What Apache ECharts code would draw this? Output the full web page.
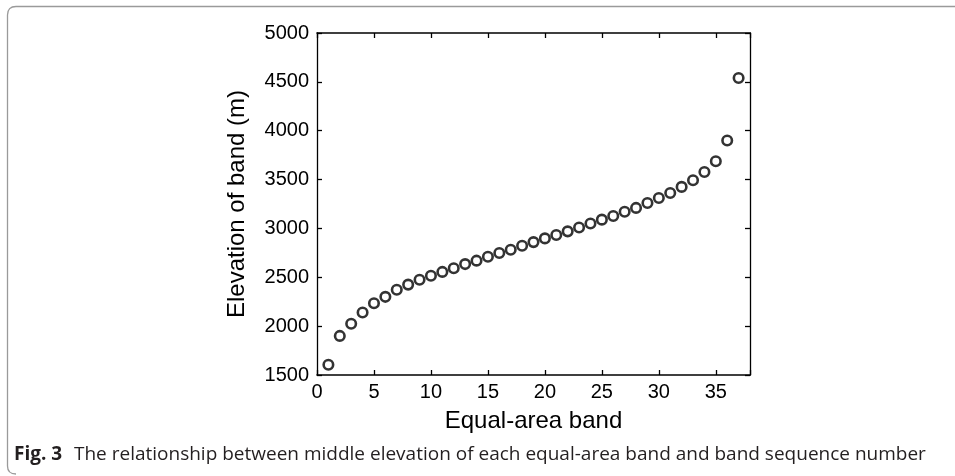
<!DOCTYPE html>
<html>
<head>
<meta charset="utf-8">
<script src="https://cdn.jsdelivr.net/npm/echarts@6/dist/echarts.min.js"></script>
<style>
html,body{margin:0;padding:0;background:#fff;}
#chart{width:955px;height:476px;}
</style>
</head>
<body>
<div id="chart"></div>
<script>
const bands = [1,2,3,4,5,6,7,8,9,10,11,12,13,14,15,16,17,18,19,20,21,22,23,24,25,26,27,28,29,30,31,32,33,34,35,36,37];
const elevations = [1605,1900,2025,2140,2235,2300,2372,2425,2475,2515,2555,2592,2635,2670,2710,2748,2782,2822,2860,2898,2932,2970,3010,3050,3090,3127,3170,3210,3260,3312,3363,3425,3493,3578,3688,3900,4540];
const xTicks = [0,5,10,15,20,25,30,35];
const yTicks = [1500,2000,2500,3000,3500,4000,4500,5000];
const xTitle = 'Equal-area band';
const yTitle = 'Elevation of band (m)';
const captionBold = 'Fig. 3';
const captionText = 'The relationship between middle elevation of each equal-area band and band sequence number';

const chart = echarts.init(document.getElementById('chart'), null, {renderer:'canvas'});
const fontFam = 'Liberation Sans, Arial, sans-serif';
const lineCol = '#000';
const points = bands.map((b,i)=>[b, elevations[i]]);

const xBase = {
  type:'value', min:0, max:38, interval:5,
  axisLine:{show:true, onZero:false, lineStyle:{color:lineCol, width:1.6}},
  axisTick:{show:true, inside:true, length:5, lineStyle:{color:lineCol, width:1.3}},
  splitLine:{show:false}
};
const yBase = {
  type:'value', min:1500, max:5000, interval:500,
  axisLine:{show:true, onZero:false, lineStyle:{color:lineCol, width:1.3}},
  axisTick:{show:true, inside:true, length:5, lineStyle:{color:lineCol, width:1.3}},
  splitLine:{show:false}
};

const frameStyle = {stroke:'#9a9a9a', lineWidth:1.3, fill:null};

chart.setOption({
  animation:false,
  backgroundColor:'#fff',
  grid:{left:317, right:205, top:33, bottom:101, containLabel:false},
  xAxis:[
    Object.assign({}, xBase, {
      position:'bottom',
      name:xTitle, nameLocation:'middle', nameGap:34,
      nameTextStyle:{fontFamily:fontFam, fontSize:24, color:'#000'},
      axisLabel:{show:true, margin:7, fontFamily:fontFam, fontSize:20, color:'#000',
        formatter:v=> xTicks.indexOf(v)>=0 ? String(v) : ''}
    }),
    Object.assign({}, xBase, {position:'top', axisLabel:{show:false}})
  ],
  yAxis:[
    Object.assign({}, yBase, {
      position:'left',
      name:yTitle, nameLocation:'middle', nameGap:68, nameRotate:90,
      nameTextStyle:{fontFamily:fontFam, fontSize:24, color:'#000'},
      axisLabel:{show:true, margin:8, fontFamily:fontFam, fontSize:20, color:'#000',
        formatter:v=> yTicks.indexOf(v)>=0 ? String(v) : ''}
    }),
    Object.assign({}, yBase, {position:'right', axisLabel:{show:false}})
  ],
  series:[{
    type:'scatter',
    xAxisIndex:0, yAxisIndex:0,
    data:points,
    symbol:'circle',
    symbolSize:9.5,
    itemStyle:{color:'#fff', borderColor:'#000', borderWidth:2.6}
  }],
  graphic:[
    {type:'line', silent:true, shape:{x1:16, y1:6.5, x2:960, y2:6.5}, style:frameStyle},
    {type:'line', silent:true, shape:{x1:7.5, y1:15, x2:7.5, y2:466}, style:frameStyle},
    {type:'bezierCurve', silent:true, shape:{x1:7.5, y1:15, cpx1:7.5, cpy1:6.5, x2:16, y2:6.5}, style:frameStyle},
    {type:'bezierCurve', silent:true, shape:{x1:7.5, y1:466, cpx1:7.5, cpy1:474, x2:16, y2:474}, style:frameStyle},
    {type:'text', left:14, top:445,
     style:{text:captionBold, fontFamily:'Open Sans, sans-serif', fontWeight:'bold', fontSize:19, fill:'#231f20'}},
    {type:'text', left:74, top:445,
     style:{text:captionText, fontFamily:'Open Sans, sans-serif', fontSize:19, fill:'#231f20'}}
  ]
});
</script>
</body>
</html>
